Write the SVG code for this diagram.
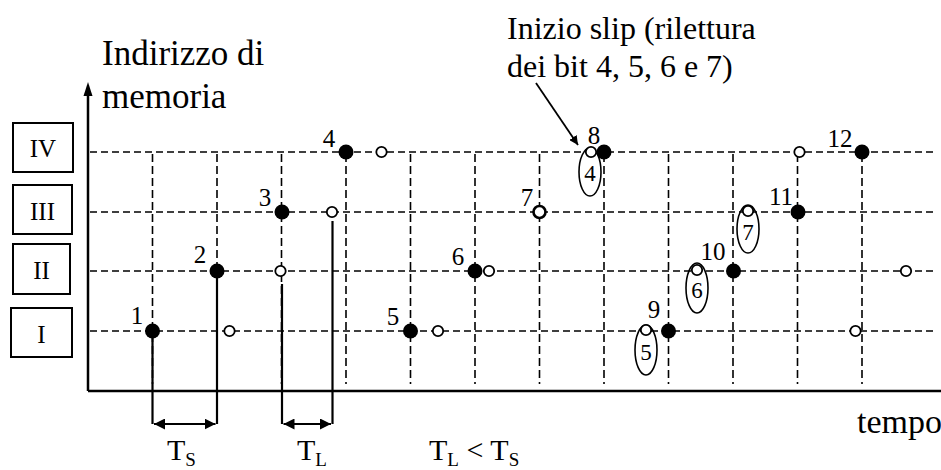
<svg xmlns="http://www.w3.org/2000/svg" width="941" height="470" viewBox="0 0 941 470" font-family="'Liberation Serif', 'Times New Roman', serif">
<style>
text{font-family:"Liberation Serif","Times New Roman",serif;fill:#000}
.hd{stroke:#000;stroke-width:1.6;stroke-dasharray:7 4;fill:none}
.vd{stroke:#000;stroke-width:1.6;stroke-dasharray:8 4;fill:none}
.ax{stroke:#000;stroke-width:2.5;fill:none}
.sl{stroke:#000;stroke-width:2.2;fill:none}
.box{fill:#fff;stroke:#000;stroke-width:2}
.f{fill:#000}
.o{fill:#fff;stroke:#000;stroke-width:1.8}
.el{fill:none;stroke:#000;stroke-width:1.6}
.bl{font-size:25px;text-anchor:middle}
.nl{font-size:25px;text-anchor:middle}
.et{font-size:23px;text-anchor:middle}
</style>
<defs>
<marker id="ah" viewBox="0 0 10 10" refX="10" refY="5" markerWidth="5" markerHeight="5" orient="auto-start-reverse" markerUnits="strokeWidth">
<path d="M0,0 L10,5 L0,10 z" fill="#000"/>
</marker>
</defs>
<g id="grid">
<line class="hd" x1="90" y1="152" x2="935" y2="152"/>
<line class="hd" x1="90" y1="212" x2="935" y2="212"/>
<line class="hd" x1="90" y1="271" x2="935" y2="271"/>
<line class="hd" x1="90" y1="331" x2="935" y2="331"/>
<line class="vd" x1="152.5" y1="154" x2="152.5" y2="384"/>
<line class="vd" x1="217" y1="154" x2="217" y2="384"/>
<line class="vd" x1="281.5" y1="154" x2="281.5" y2="384"/>
<line class="vd" x1="346" y1="154" x2="346" y2="384"/>
<line class="vd" x1="410.5" y1="154" x2="410.5" y2="384"/>
<line class="vd" x1="475" y1="154" x2="475" y2="384"/>
<line class="vd" x1="539.5" y1="154" x2="539.5" y2="384"/>
<line class="vd" x1="604" y1="154" x2="604" y2="384"/>
<line class="vd" x1="668.5" y1="154" x2="668.5" y2="384"/>
<line class="vd" x1="733" y1="154" x2="733" y2="384"/>
<line class="vd" x1="797.5" y1="154" x2="797.5" y2="384"/>
<line class="vd" x1="862" y1="154" x2="862" y2="384"/>
</g>
<g id="axes">
<line class="ax" x1="88" y1="391" x2="941" y2="391"/>
<line class="ax" x1="88" y1="391" x2="88" y2="95"/>
<path d="M88,82 L83.5,96 L92.5,96 z" class="f"/>
<text x="102" y="65" font-size="35">Indirizzo di</text>
<text x="102" y="108" font-size="35">memoria</text>
<text x="857" y="433" font-size="34">tempo</text>
</g>
<g id="box-IV"><rect class="box" x="13" y="123" width="60" height="49"/><text class="bl" x="43" y="157">IV</text></g>
<g id="box-III"><rect class="box" x="13" y="185" width="59" height="49"/><text class="bl" x="42.5" y="220">III</text></g>
<g id="box-II"><rect class="box" x="13" y="244" width="57" height="50"/><text class="bl" x="41.5" y="279">II</text></g>
<g id="box-I"><rect class="box" x="11" y="308" width="61" height="49"/><text class="bl" x="41.5" y="343">I</text></g>
<g id="connectors">
<line class="sl" x1="152.5" y1="331" x2="152.5" y2="424"/>
<line class="sl" x1="217" y1="271" x2="217" y2="424"/>
<line class="sl" x1="282" y1="284" x2="282" y2="424"/>
<line class="sl" x1="332.5" y1="221" x2="332.5" y2="424"/>
<line class="sl" x1="154" y1="424" x2="215.5" y2="424" marker-start="url(#ah)" marker-end="url(#ah)"/>
<line class="sl" x1="283.5" y1="424" x2="331" y2="424" marker-start="url(#ah)" marker-end="url(#ah)"/>
<line stroke="#000" stroke-width="1.8" x1="536" y1="83" x2="578" y2="145" marker-end="url(#ah)"/>
</g>
<g id="writes">
<g id="w1"><circle class="f" cx="152.5" cy="331" r="7.5"/><text class="nl" x="137" y="324">1</text></g>
<g id="w2"><circle class="f" cx="217" cy="271" r="7.5"/><text class="nl" x="200" y="263">2</text></g>
<g id="w3"><circle class="f" cx="282" cy="212" r="7.5"/><text class="nl" x="265" y="206">3</text></g>
<g id="w4"><circle class="f" cx="346" cy="152" r="7.5"/><text class="nl" x="329" y="147">4</text></g>
<g id="w5"><circle class="f" cx="410.5" cy="331" r="7.5"/><text class="nl" x="393" y="325">5</text></g>
<g id="w6"><circle class="f" cx="475" cy="271" r="7.5"/><text class="nl" x="458" y="265">6</text></g>
<g id="w7"><circle cx="539.5" cy="212" r="6" fill="#fff" stroke="#000" stroke-width="2.6"/><text class="nl" x="527" y="206">7</text></g>
<g id="w8"><circle class="f" cx="604" cy="152" r="7.5"/><text class="nl" x="594" y="144">8</text></g>
<g id="w9"><circle class="f" cx="668.5" cy="331" r="7.5"/><text class="nl" x="654" y="318">9</text></g>
<g id="w10"><circle class="f" cx="733.5" cy="271" r="7.5"/><text class="nl" x="713" y="260">10</text></g>
<g id="w11"><circle class="f" cx="798" cy="212" r="7.5"/><text class="nl" x="781" y="205">11</text></g>
<g id="w12"><circle class="f" cx="862" cy="152" r="7.5"/><text class="nl" x="840" y="147">12</text></g>
</g>
<g id="reads">
<circle class="o" cx="229.5" cy="331" r="5.2"/>
<circle class="o" cx="280.5" cy="271" r="5.2"/>
<circle class="o" cx="332" cy="212" r="5.2"/>
<circle class="o" cx="381.5" cy="152" r="5.2"/>
<circle class="o" cx="438" cy="331" r="5.2"/>
<circle class="o" cx="489" cy="271" r="5.2"/>
<circle class="o" cx="799.5" cy="152" r="5.2"/>
<circle class="o" cx="855.5" cy="331" r="5.2"/>
<circle class="o" cx="906" cy="271" r="5.2"/>
<g id="r4"><ellipse class="el" cx="590" cy="172" rx="11" ry="24"/><circle class="o" cx="591" cy="152" r="5.2"/><text class="et" x="590" y="181">4</text></g>
<g id="r5"><ellipse class="el" cx="646" cy="350" rx="11" ry="25"/><circle class="o" cx="646" cy="330" r="5.2"/><text class="et" x="646" y="360">5</text></g>
<g id="r6"><ellipse class="el" cx="697" cy="288" rx="11" ry="25"/><circle class="o" cx="697" cy="270" r="5.2"/><text class="et" x="697" y="298">6</text></g>
<g id="r7"><ellipse class="el" cx="748" cy="229" rx="11" ry="24"/><circle class="o" cx="748" cy="211" r="5.2"/><text class="et" x="748" y="240">7</text></g>
</g>
<g id="notes">
<text x="507" y="39" font-size="32">Inizio slip (rilettura</text>
<text x="507" y="77" font-size="32">dei bit 4, 5, 6 e 7)</text>
<text x="167" y="460" font-size="30">T<tspan dy="6" font-size="19">S</tspan></text>
<text x="297" y="460" font-size="30">T<tspan dy="6" font-size="19">L</tspan></text>
<text x="429" y="460" font-size="30">T<tspan dy="6" font-size="19">L</tspan><tspan dy="-6"> &lt; T</tspan><tspan dy="6" font-size="19">S</tspan></text>
</g>
</svg>
